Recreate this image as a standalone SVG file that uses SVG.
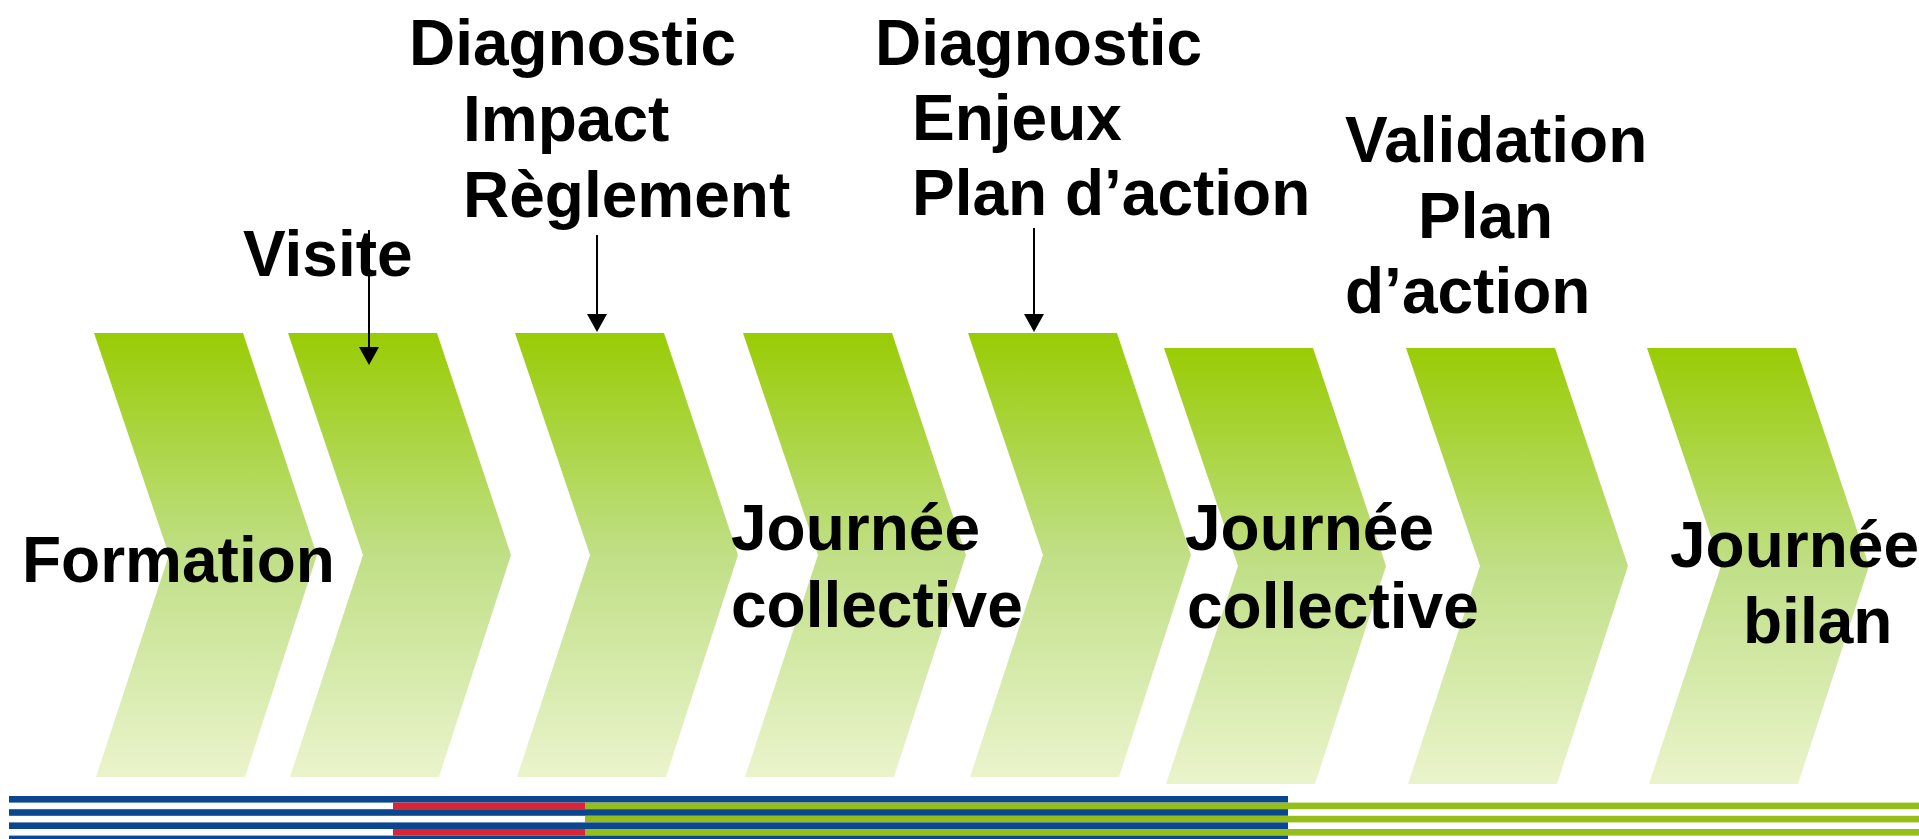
<svg xmlns="http://www.w3.org/2000/svg" width="1919" height="839" viewBox="0 0 1919 839">
<defs>
<linearGradient id="chevGrad" x1="0" y1="0" x2="0" y2="1">
<stop offset="0" stop-color="#99CC05"/>
<stop offset="0.5" stop-color="#C0DF86"/>
<stop offset="1" stop-color="#EAF4CC"/>
</linearGradient>
<polygon id="chevA" points="0,0 149,0 223,222 151,444 2,444 75,222"/>
<polygon id="chevB" points="0,0 149,0 222,218 151,436 2,436 74,218"/>
<marker id="arrowHead" viewBox="0 0 18 20" refX="16" refY="10" markerWidth="18" markerHeight="20" markerUnits="userSpaceOnUse" orient="auto">
<path d="M0,0 L18,10 L0,20 z" fill="#000"/>
</marker>
</defs>
<style>
.chev { fill: url(#chevGrad); }
.lbl { font-family: "Liberation Sans", Arial, sans-serif; font-weight: bold; font-size: 64px; fill: #000; }
.conn { stroke: #000; stroke-width: 2; fill: none; marker-end: url(#arrowHead); }
.blue { fill: #0B4790; }
.red { fill: #D92632; }
.green { fill: #95BE1B; }
</style>
<rect width="1919" height="839" fill="#fff"/>

<g id="chevrons">
<g id="chev1"><use href="#chevA" class="chev" x="94" y="333"/></g>
<g id="chev2"><use href="#chevA" class="chev" x="288" y="333"/></g>
<g id="chev3"><use href="#chevA" class="chev" x="515" y="333"/></g>
<g id="chev4"><use href="#chevA" class="chev" x="743" y="333"/></g>
<g id="chev5"><use href="#chevA" class="chev" x="968" y="333"/></g>
<g id="chev6"><use href="#chevB" class="chev" x="1164" y="348"/></g>
<g id="chev7"><use href="#chevB" class="chev" x="1406" y="348"/></g>
<g id="chev8"><use href="#chevB" class="chev" x="1647" y="348"/></g>
</g>

<g id="stripes">
<rect class="blue" x="9" y="796" width="1279" height="6.6"/>
<rect class="red" x="393" y="802.6" width="192" height="6.6"/>
<rect class="green" x="585" y="802.6" width="1334" height="6.6"/>
<rect class="blue" x="9" y="809.2" width="1279" height="6.6"/>
<rect class="green" x="585" y="815.8" width="1334" height="6.6"/>
<rect class="blue" x="9" y="822.4" width="1279" height="6.6"/>
<rect class="red" x="393" y="829" width="192" height="6.6"/>
<rect class="green" x="585" y="829" width="1334" height="6.6"/>
<rect class="blue" x="9" y="835.6" width="1279" height="6.6"/>
</g>

<g id="connectors">
<line class="conn" x1="369" y1="230" x2="369" y2="363"/>
<line class="conn" x1="597" y1="235" x2="597" y2="330"/>
<line class="conn" x1="1034" y1="228" x2="1034" y2="330"/>
</g>

<g id="label-formation"><text class="lbl" x="22" y="582">Formation</text></g>
<g id="label-visite"><text class="lbl" x="243" y="276">Visite</text></g>
<g id="label-diag-impact">
<text class="lbl" x="409" y="65">Diagnostic</text>
<text class="lbl" x="463" y="141">Impact</text>
<text class="lbl" x="463" y="217">Règlement</text>
</g>
<g id="label-diag-enjeux">
<text class="lbl" x="875" y="65">Diagnostic</text>
<text class="lbl" x="912" y="140">Enjeux</text>
<text class="lbl" x="912" y="215">Plan d’action</text>
</g>
<g id="label-validation">
<text class="lbl" x="1345" y="162">Validation</text>
<text class="lbl" x="1418" y="238">Plan</text>
<text class="lbl" x="1345" y="313">d’action</text>
</g>
<g id="label-journee1">
<text class="lbl" x="731" y="550">Journée</text>
<text class="lbl" x="731" y="627">collective</text>
</g>
<g id="label-journee2">
<text class="lbl" x="1185" y="550">Journée</text>
<text class="lbl" x="1187" y="628">collective</text>
</g>
<g id="label-bilan">
<text class="lbl" x="1670" y="567">Journée</text>
<text class="lbl" x="1743" y="643">bilan</text>
</g>
</svg>
